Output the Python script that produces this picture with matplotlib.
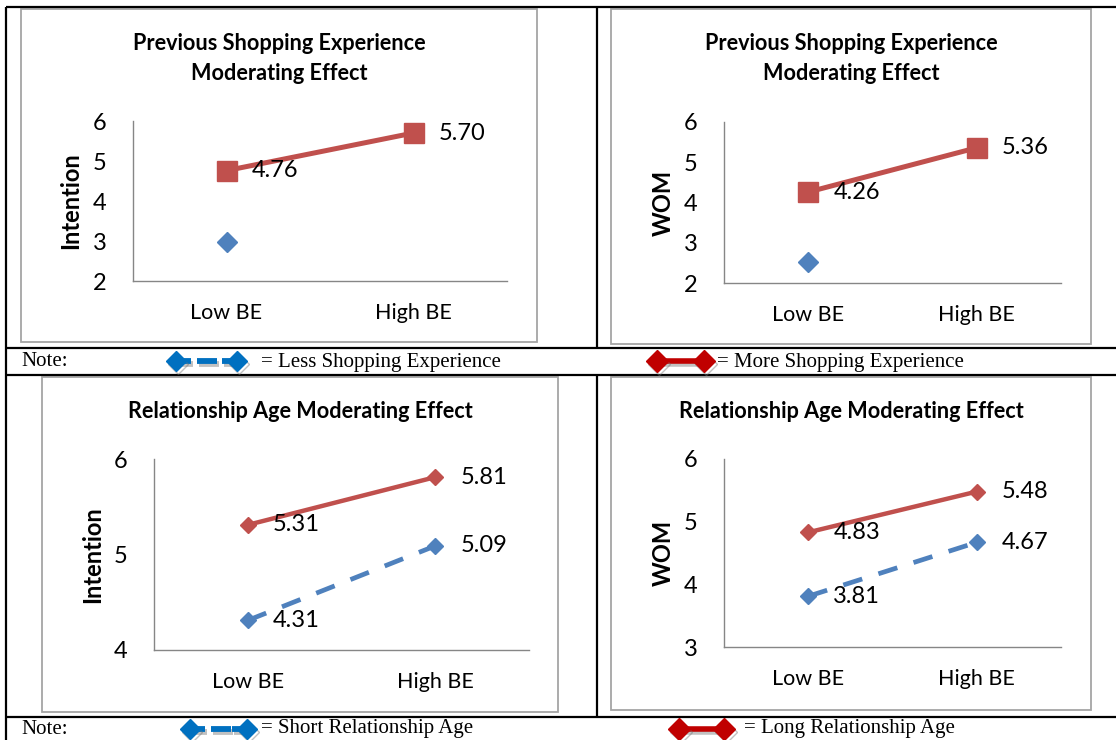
import numpy as np
import matplotlib
matplotlib.use("Agg")
import matplotlib.pyplot as plt
import matplotlib.patheffects as pe
from matplotlib.patches import Rectangle

# ---- data ----
categories = ['Low BE', 'High BE']

# previous shopping experience (less experience only has a Low BE value)
less_exp_intention = [2.97, np.nan]
more_exp_intention = [4.76, 5.70]
less_exp_wom = [2.52, np.nan]
more_exp_wom = [4.26, 5.36]

# relationship age
short_age_intention = [4.31, 5.09]
long_age_intention = [5.31, 5.81]
short_age_wom = [3.81, 4.67]
long_age_wom = [4.83, 5.48]

top_yticks = [2, 3, 4, 5, 6]
int_age_yticks = [4, 5, 6]
wom_age_yticks = [3, 4, 5, 6]

# ---- style ----
W, H = 1116, 740
RED = '#C0504D'
BLUE = '#4F81BD'
LEG_RED = '#C00000'
LEG_BLUE = '#0070C0'
SANS = 'Lato'
SERIF = 'Liberation Serif'

fig = plt.figure(figsize=(W / 100, H / 100), dpi=100)

# page layer in pixel units (y down) for the table grid and chart frames
page = fig.add_axes([0, 0, 1, 1], zorder=0)
page.set_xlim(0, W)
page.set_ylim(H, 0)
page.axis('off')


def box(l, t, r, b):
    return [l / W, 1 - b / H, (r - l) / W, (b - t) / H]


# table rules
rule = dict(color='black', lw=1.6, solid_capstyle='butt')
for y in [7, 348, 375, 717]:
    page.plot([6, W], [y, y], **rule)
page.plot([6, 6], [7, H], **rule)
page.plot([597, 597], [7, 348], **rule)
page.plot([597, 597], [375, 717], **rule)

# chart frames
for l, t, r, b in [(21, 9, 537, 342), (611, 9, 1091, 344),
                   (42, 377, 558, 712), (611, 377, 1091, 710)]:
    page.add_patch(Rectangle((l, t), r - l, b - t, fill=False,
                             ec='#A5A5A5', lw=1.3))

# chart titles
title_kw = dict(ha='center', va='center', fontsize=15.6, fontweight='bold',
                family=SANS)
page.text(279, 43, 'Previous Shopping Experience', **title_kw)
page.text(279, 73, 'Moderating Effect', **title_kw)
page.text(851, 43, 'Previous Shopping Experience', **title_kw)
page.text(851, 73, 'Moderating Effect', **title_kw)
page.text(300, 412, 'Relationship Age Moderating Effect', **title_kw)
page.text(851, 412, 'Relationship Age Moderating Effect', **title_kw)


def setup_axes(ax, yticks, ylabel, label_x):
    x = np.arange(len(categories))
    ax.set_facecolor('none')
    ax.set_xlim(-0.5, 1.5)
    ax.set_ylim(yticks[0], yticks[-1])
    ax.set_xticks(x)
    ax.set_xticklabels(categories)
    ax.set_yticks(yticks)
    for side in ['top', 'right']:
        ax.spines[side].set_visible(False)
    for side in ['left', 'bottom']:
        ax.spines[side].set_color('#868686')
        ax.spines[side].set_linewidth(1.0)
    ax.tick_params(axis='both', length=0)
    ax.tick_params(axis='x', pad=16, labelsize=15.5)
    ax.tick_params(axis='y', pad=19, labelsize=17)
    for lab in ax.get_xticklabels() + ax.get_yticklabels():
        lab.set_family(SANS)
    ax.text(label_x, 0.5, ylabel, transform=ax.transAxes, rotation=90,
            ha='center', va='center', fontsize=17, fontweight='bold',
            family=SANS)
    return x


def value_labels(ax, x, values):
    for xi, v in zip(x, values):
        ax.annotate(f'{v:.2f}', (xi, v), xytext=(18, 0),
                    textcoords='offset points', va='center', ha='left',
                    fontsize=17, family=SANS)


# chart 1: intention, shopping experience
ax1 = fig.add_axes(box(133, 121, 507, 281), zorder=1)
x = setup_axes(ax1, top_yticks, 'Intention', -0.167)
ax1.plot(x, less_exp_intention, color=BLUE, lw=3.4, marker='D', ms=10,
         ls=(0, (4.2, 3.6)))
ax1.plot(x, more_exp_intention, color=RED, lw=3.6, marker='s', ms=14)
value_labels(ax1, x, more_exp_intention)

# chart 2: WOM, shopping experience
ax2 = fig.add_axes(box(724, 122, 1061, 283), zorder=1)
x = setup_axes(ax2, top_yticks, 'WOM', -0.18)
ax2.plot(x, less_exp_wom, color=BLUE, lw=3.4, marker='D', ms=10,
         ls=(0, (4.2, 3.6)))
ax2.plot(x, more_exp_wom, color=RED, lw=3.6, marker='s', ms=14)
value_labels(ax2, x, more_exp_wom)

# chart 3: intention, relationship age
ax3 = fig.add_axes(box(154, 459, 529, 650), zorder=1)
x = setup_axes(ax3, int_age_yticks, 'Intention', -0.165)
ax3.plot(x, long_age_intention, color=RED, lw=3.2, marker='D', ms=8)
ax3.plot(x, short_age_intention, color=BLUE, lw=3.4, marker='D', ms=8,
         ls=(0, (4.2, 3.6)))
value_labels(ax3, x, long_age_intention)
value_labels(ax3, x, short_age_intention)

# chart 4: WOM, relationship age
ax4 = fig.add_axes(box(724, 459, 1061, 647), zorder=1)
x = setup_axes(ax4, wom_age_yticks, 'WOM', -0.18)
ax4.plot(x, long_age_wom, color=RED, lw=3.2, marker='D', ms=8)
ax4.plot(x, short_age_wom, color=BLUE, lw=3.4, marker='D', ms=8,
         ls=(0, (4.2, 3.6)))
value_labels(ax4, x, long_age_wom)
value_labels(ax4, x, short_age_wom)

# ---- note rows with hand-drawn legend keys ----
shadow = [pe.SimpleLineShadow(offset=(1.5, -2), shadow_color='#777777',
                              alpha=0.45), pe.Normal()]
note_kw = dict(va='center', ha='left', fontsize=15, family=SERIF)


def blue_key(x0, x1, y):
    # diamond-capped dashed key: stub, one dash, stub
    for a, b in [(x0 + 7, x0 + 23), (x0 + 29, x0 + 49), (x1 - 23, x1 - 7)]:
        page.plot([a, b], [y, y], color=LEG_BLUE, lw=4.2,
                  solid_capstyle='butt', path_effects=shadow)
    page.plot([x0 + 8, x1 - 8], [y, y], ls='none', marker='D', ms=10,
              color=LEG_BLUE, mec=LEG_BLUE, path_effects=shadow)


def red_key(x0, x1, y):
    page.plot([x0 + 9, x1 - 9], [y, y], color=LEG_RED, lw=4,
              path_effects=shadow)
    page.plot([x0 + 9, x1 - 9], [y, y], ls='none', marker='D', ms=11,
              color=LEG_RED, mec=LEG_RED, path_effects=shadow)


page.text(21, 362, 'Note:', **note_kw)
blue_key(168, 245, 361)
page.text(261, 362, '= Less Shopping Experience', **note_kw)
red_key(648, 713, 361)
page.text(717, 362, '= More Shopping Experience', **note_kw)

page.text(21, 729, 'Note:', **note_kw)
blue_key(182, 255, 729)
page.text(261, 729, '= Short Relationship Age', **note_kw)
red_key(670, 733, 729)
page.text(744, 729, '= Long Relationship Age', **note_kw)

fig.savefig('out.png', dpi=100)
